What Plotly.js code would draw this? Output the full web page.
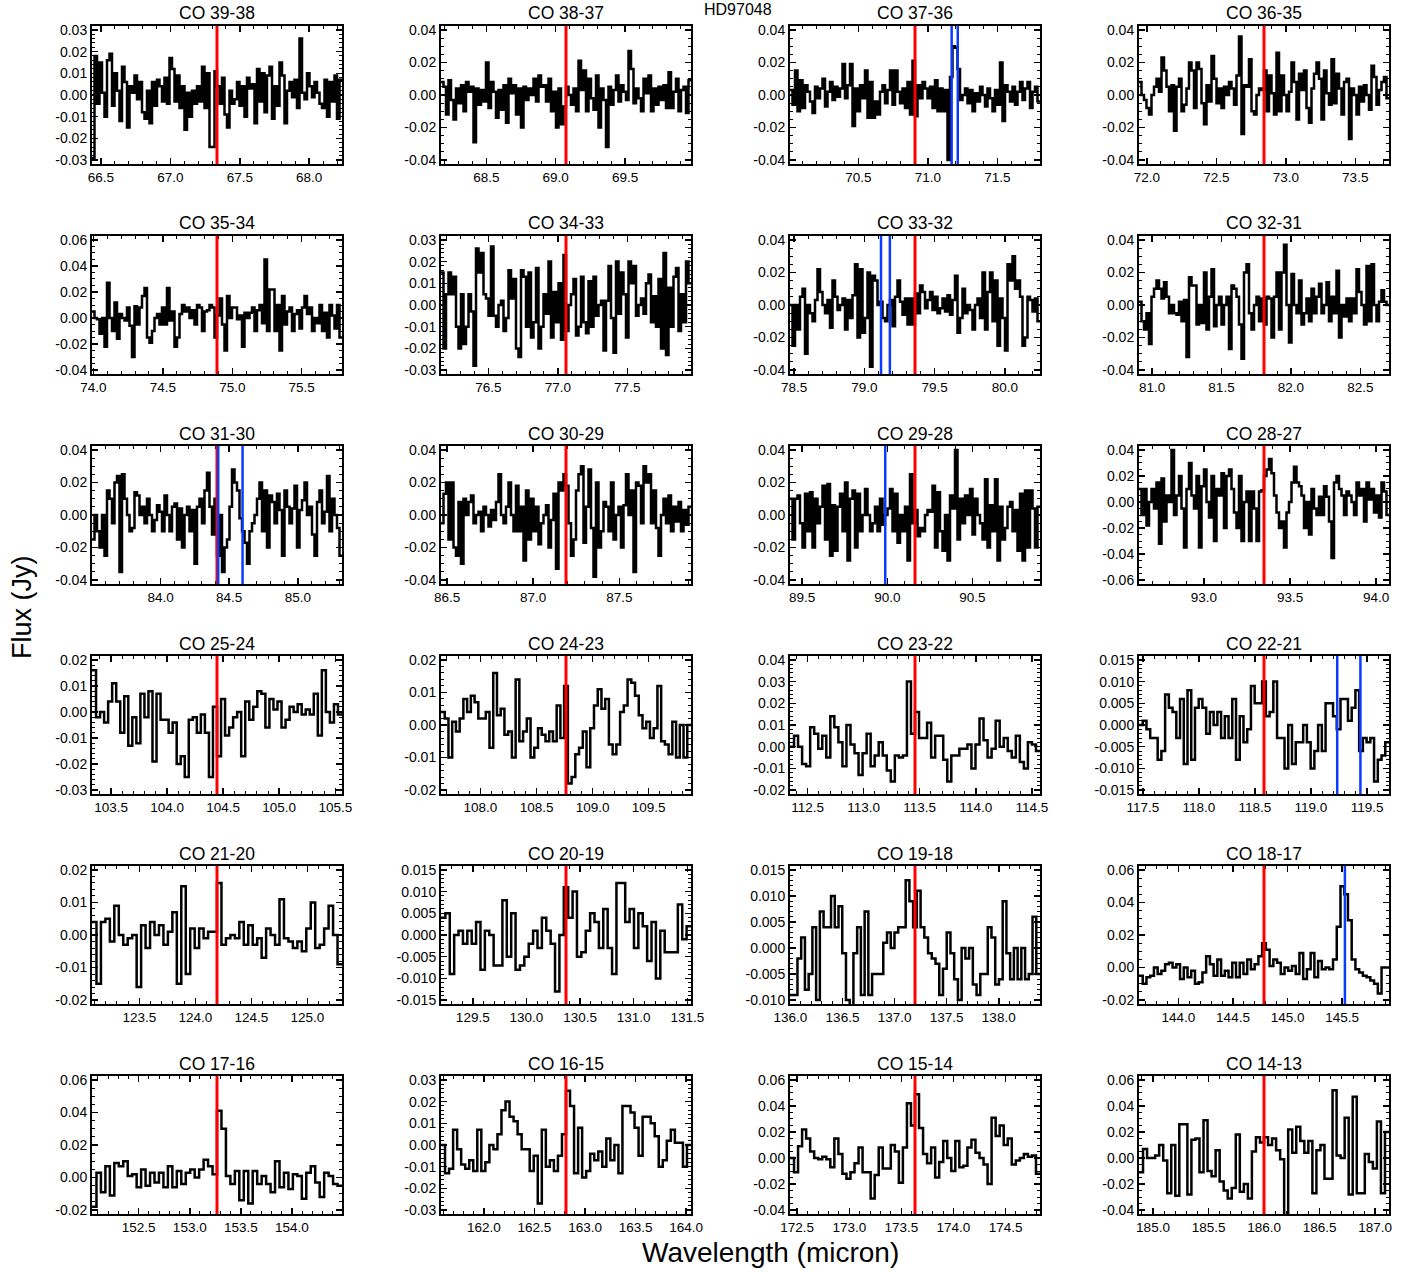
<!DOCTYPE html>
<html><head><meta charset="utf-8">
<script src="https://cdn.plot.ly/plotly-3.0.1.min.js"></script>
<style>body{margin:0;background:#fff}#chart{width:1419px;height:1272px}</style>
</head><body><div id="chart"></div>
<script>
// ---- data ----
const starName = 'HD97048';
const lineNames = ['CO 39-38','CO 38-37','CO 37-36','CO 36-35','CO 35-34','CO 34-33','CO 33-32','CO 32-31',
  'CO 31-30','CO 30-29','CO 29-28','CO 28-27','CO 25-24','CO 24-23','CO 23-22','CO 22-21',
  'CO 21-20','CO 20-19','CO 19-18','CO 18-17','CO 17-16','CO 16-15','CO 15-14','CO 14-13'];
const lineWl = [67.336,69.074,70.907,72.843,74.890,77.059,79.360,81.806,84.411,87.190,90.163,93.349,
  104.445,108.763,113.458,118.581,124.193,130.369,137.196,144.784,153.267,162.812,173.631,185.999];
// wavelength span of each spectrum (micron)
const spanWl = [1.8,1.8,1.8,1.8,1.8,1.8,1.78,1.8,1.82,1.45,1.47,1.45,
  2.23,2.23,2.23,2.23,2.23,2.33,2.40,2.29,2.45,2.47,2.40,2.25];
// other (OH / H2O / [OI]) lines marked in blue
const blueWl = [[],[],[71.171,71.215],[],[],[],[79.118,79.181],[],[84.420,84.597],[],[89.988],[],
  [],[],[],[119.234,119.441],[],[],[],[145.525],[],[],[],[]];
// y tick labels
const yTickLo = [-0.03,-0.04,-0.04,-0.04,-0.04,-0.03,-0.04,-0.04,-0.04,-0.04,-0.04,-0.06,
  -0.03,-0.02,-0.02,-0.015,-0.02,-0.015,-0.010,-0.02,-0.02,-0.03,-0.04,-0.04];
const yTickHi = [0.03,0.04,0.04,0.04,0.06,0.03,0.04,0.04,0.04,0.04,0.04,0.04,
  0.02,0.02,0.04,0.015,0.02,0.015,0.015,0.06,0.06,0.03,0.06,0.06];
const yTickStep = [0.01,0.02,0.02,0.02,0.02,0.01,0.02,0.02,0.02,0.02,0.02,0.02,
  0.01,0.01,0.01,0.005,0.01,0.005,0.005,0.02,0.02,0.01,0.02,0.02];
const yTickDec = [2,2,2,2,2,2,2,2,2,2,2,2,2,2,2,3,2,3,3,2,2,2,2,2];

// flux (Jy) per spectral bin
const flux01 = [-0.029,0.018,-0.004,0.015,0.001,-0.010,0.016,0.019,-0.005,0.010,0.002,-0.012,0.013,0.006,-0.015,0.004,0.001,0.009,-0.002,0.006,-0.008,-0.011,0.002,-0.013,0.006,-0.005,0.007,0.004,-0.003,0.008,-0.004,0.017,0.012,-0.003,0.009,-0.006,0.004,-0.016,0.001,-0.010,0.002,-0.004,0.004,-0.003,0.013,-0.006,0.010,-0.024,-0.024,0.011,0.004,-0.004,0.008,-0.009,-0.015,0.002,-0.004,-0.002,0.006,-0.005,0.004,-0.010,0.008,0.003,0.005,-0.013,0.012,-0.003,0.010,-0.008,0.009,0.013,-0.011,0.004,-0.005,0.015,0.009,-0.013,0.002,0.006,-0.001,0.007,-0.006,0.026,0.001,-0.002,0.010,0.004,-0.001,0.006,0.001,-0.004,-0.006,0.007,-0.010,0.006,-0.003,0.009,-0.011,0.007];
const flux02 = [0.008,0.005,-0.012,0.009,-0.003,-0.015,0.004,-0.005,0.006,-0.010,0.008,0.002,0.005,-0.029,0.004,-0.006,0.003,-0.004,0.020,-0.008,0.008,0.002,-0.014,0.003,-0.009,0.006,-0.017,0.010,0.001,0.006,-0.012,0.004,-0.020,0.005,-0.003,0.004,0.000,0.010,-0.004,0.012,0.005,0.006,-0.004,0.010,-0.010,0.002,-0.020,0.004,-0.018,-0.007,0.005,0.000,-0.006,0.004,-0.010,0.021,0.003,0.015,-0.010,0.010,-0.002,-0.009,0.012,-0.020,0.004,-0.003,-0.032,0.005,-0.006,0.003,0.012,-0.004,0.006,0.002,-0.003,0.027,0.016,-0.005,0.004,-0.002,-0.010,0.010,0.001,0.012,-0.010,0.004,-0.006,0.005,-0.003,0.006,-0.008,0.014,-0.008,0.002,0.010,-0.010,0.003,0.005,-0.011,0.009];
const flux03 = [0.003,-0.006,0.015,-0.010,0.009,-0.008,0.006,0.002,-0.004,-0.011,0.005,-0.002,0.004,0.010,-0.007,0.002,0.008,-0.003,0.005,-0.001,0.004,0.019,-0.002,0.006,0.019,-0.019,0.004,-0.010,0.006,-0.002,0.015,-0.014,0.008,-0.014,-0.004,-0.012,0.002,0.006,-0.005,0.003,0.015,-0.006,0.015,0.002,-0.005,0.004,-0.008,0.008,-0.012,0.021,-0.013,0.006,-0.002,0.008,0.004,-0.002,0.005,-0.008,0.009,-0.010,0.004,-0.010,0.003,-0.040,0.011,0.030,0.029,0.016,-0.003,0.000,0.004,-0.005,0.003,-0.010,0.001,-0.004,0.005,0.000,-0.007,0.004,-0.002,-0.010,0.003,-0.006,0.020,-0.016,0.006,0.002,-0.004,0.005,-0.006,0.002,0.008,-0.003,0.004,0.008,-0.008,0.002,0.005,-0.004];
const flux04 = [0.008,0.000,-0.003,-0.008,-0.012,0.000,0.005,0.010,0.002,0.023,0.015,0.005,-0.010,0.006,-0.022,0.005,0.010,-0.010,-0.006,0.004,0.020,0.015,-0.008,0.020,0.016,-0.005,-0.018,0.006,-0.004,0.024,0.010,-0.005,0.004,-0.008,0.005,0.000,0.008,0.004,-0.006,0.012,0.036,-0.024,0.006,0.005,0.022,-0.010,-0.012,0.000,0.004,0.003,0.015,-0.010,0.012,0.001,-0.012,0.026,-0.010,0.012,0.000,-0.010,0.002,0.020,0.008,-0.015,0.013,0.003,0.015,-0.008,-0.017,0.004,0.013,0.020,0.010,-0.015,0.015,0.001,-0.006,0.022,-0.005,0.013,0.004,-0.012,0.008,0.010,-0.027,0.004,0.000,-0.012,0.005,-0.004,0.006,0.000,-0.009,0.018,0.011,-0.006,0.003,0.008,0.011,-0.002];
const flux05 = [0.005,0.000,-0.001,-0.012,0.000,-0.022,0.027,0.000,-0.010,0.012,-0.016,0.003,0.000,-0.002,0.008,-0.006,-0.030,0.009,-0.005,0.008,0.017,0.023,-0.015,-0.019,-0.010,0.000,0.003,-0.005,0.008,-0.005,0.023,-0.002,0.005,-0.022,-0.015,0.003,0.010,0.005,0.008,0.000,0.006,-0.005,0.010,0.008,-0.010,0.005,0.006,0.010,0.008,-0.015,0.002,0.015,-0.005,-0.025,0.017,0.000,0.008,0.008,-0.001,0.002,-0.022,0.004,0.000,0.004,0.008,-0.010,0.006,0.010,-0.004,0.045,-0.010,0.022,0.022,-0.010,0.010,-0.025,0.017,-0.005,0.005,0.008,-0.010,0.003,0.006,-0.008,0.008,0.017,0.003,0.008,-0.010,0.000,-0.004,0.010,-0.010,0.004,-0.015,0.010,0.002,-0.008,0.010,-0.015];
const flux06 = [0.015,-0.020,0.005,0.015,0.005,0.013,-0.010,-0.020,0.005,-0.018,-0.010,0.005,-0.003,-0.028,0.026,0.015,0.024,0.005,0.003,-0.005,0.027,-0.005,-0.010,0.000,0.002,-0.012,-0.006,0.016,0.003,0.012,-0.020,-0.024,0.016,0.013,-0.010,0.015,-0.015,-0.008,0.017,-0.020,-0.010,0.005,-0.004,0.020,-0.015,0.006,-0.008,0.010,-0.016,0.023,-0.012,0.000,0.005,0.012,-0.014,-0.010,0.013,-0.008,-0.013,0.011,-0.010,0.013,-0.005,0.000,0.002,-0.021,0.002,0.018,-0.006,-0.022,0.020,-0.004,0.015,0.005,-0.015,0.020,0.010,0.018,-0.005,0.000,0.003,-0.004,0.010,0.014,-0.008,0.004,-0.010,0.012,-0.020,0.024,-0.023,0.008,-0.010,0.013,0.017,-0.012,0.005,-0.008,0.020,0.010];
const flux07 = [0.000,-0.025,0.000,-0.015,0.005,0.010,-0.030,0.000,-0.005,-0.010,0.003,0.022,0.008,0.000,-0.005,0.003,-0.014,0.015,0.005,-0.003,0.000,0.004,-0.015,0.003,-0.008,0.006,0.025,-0.020,0.022,-0.017,-0.008,0.020,-0.038,0.018,0.015,0.000,0.002,-0.008,-0.010,0.000,0.003,-0.013,0.005,0.015,0.002,-0.006,0.004,-0.012,0.004,-0.012,0.007,-0.005,0.012,0.008,-0.002,0.003,0.008,-0.003,0.005,-0.005,-0.002,0.004,-0.004,0.006,-0.006,0.003,0.018,-0.017,-0.008,0.010,-0.005,0.000,-0.003,-0.015,0.000,0.004,-0.008,0.020,-0.015,0.008,0.020,-0.010,0.015,-0.025,0.004,-0.008,-0.028,0.025,0.015,0.030,0.010,0.015,0.005,-0.025,-0.020,0.005,0.003,-0.004,0.004,-0.010];
const flux08 = [0.002,-0.010,-0.015,-0.005,-0.024,0.005,0.010,0.015,0.010,0.004,0.014,0.005,-0.005,0.000,-0.005,-0.006,0.002,-0.010,0.003,-0.032,0.017,0.012,0.012,-0.012,0.000,-0.011,0.020,-0.015,0.005,0.022,-0.013,0.000,0.005,-0.012,0.000,0.005,-0.027,0.012,0.010,0.005,-0.012,-0.033,0.020,0.025,-0.005,-0.015,0.000,0.005,-0.010,0.004,-0.012,0.005,0.004,-0.020,0.005,0.020,-0.015,0.020,0.037,0.000,-0.023,0.019,0.000,-0.005,0.015,-0.012,-0.005,0.004,-0.010,0.010,-0.005,0.005,0.013,-0.005,0.000,0.014,-0.010,0.005,-0.005,0.021,-0.020,0.000,-0.007,0.004,-0.010,0.004,-0.005,0.022,0.008,0.000,-0.012,0.024,-0.010,0.025,0.000,-0.010,0.002,0.009,0.002,0.000];
const flux09 = [-0.015,0.000,-0.010,-0.020,0.000,-0.025,0.015,0.010,-0.005,0.020,0.024,-0.035,0.025,0.010,0.000,-0.010,-0.008,0.014,0.012,0.000,0.005,-0.005,0.010,0.000,-0.010,-0.003,0.006,0.002,-0.010,0.012,0.000,-0.010,0.005,0.007,-0.015,0.004,-0.020,0.000,0.005,-0.010,0.003,-0.030,0.005,0.010,-0.005,0.015,0.026,0.005,-0.012,0.010,-0.025,0.000,-0.035,-0.020,-0.015,0.005,0.028,0.020,0.015,-0.002,-0.010,-0.017,-0.030,-0.010,-0.005,0.000,0.010,0.020,-0.010,0.015,-0.020,0.012,0.008,-0.005,0.013,0.003,-0.025,0.015,0.005,-0.005,0.004,0.018,-0.020,0.003,0.009,0.020,0.000,0.005,-0.012,-0.025,0.008,0.015,-0.005,0.002,0.024,-0.010,0.010,0.000,-0.008,-0.025];
const flux10 = [-0.005,0.013,0.020,-0.015,0.020,-0.020,-0.025,0.008,-0.030,0.010,0.000,0.008,0.012,-0.005,0.000,0.002,-0.010,0.005,0.000,-0.007,0.003,-0.003,0.008,0.025,0.000,-0.005,0.005,0.020,0.000,-0.010,0.018,-0.010,0.005,-0.028,0.015,-0.015,0.010,-0.010,0.005,-0.018,-0.005,0.000,0.006,-0.020,-0.003,0.013,-0.033,0.020,0.015,0.025,0.018,-0.005,-0.025,-0.015,0.015,0.025,0.030,-0.017,0.005,0.028,-0.008,-0.038,0.020,-0.020,-0.010,0.008,0.005,-0.010,0.020,-0.015,0.000,0.005,-0.020,0.006,0.025,0.000,0.015,-0.035,0.020,0.018,-0.005,0.030,0.020,0.025,-0.005,0.015,-0.008,-0.025,0.000,0.010,-0.005,0.012,-0.010,0.005,-0.004,0.008,-0.010,0.003,-0.006,0.005];
const flux11 = [0.010,-0.015,0.010,0.012,-0.005,-0.020,0.013,-0.010,0.014,-0.020,0.010,-0.005,0.005,0.018,-0.015,0.019,-0.025,0.006,-0.022,0.005,0.013,-0.010,0.020,-0.028,0.010,0.015,-0.020,0.013,-0.010,0.000,0.016,0.000,-0.010,-0.005,0.005,-0.010,0.010,-0.006,0.000,0.004,0.016,-0.010,0.013,-0.017,0.000,-0.010,0.005,-0.028,0.025,-0.005,0.003,-0.013,-0.008,-0.010,0.000,0.003,0.002,0.018,-0.020,0.014,-0.010,-0.022,0.000,-0.028,0.012,0.004,0.040,-0.015,0.010,-0.005,0.012,0.000,0.016,-0.012,0.010,0.000,-0.005,-0.015,0.022,-0.020,0.006,-0.010,0.022,-0.028,0.005,-0.015,-0.008,0.005,0.008,-0.010,0.003,-0.022,0.013,-0.028,0.015,-0.020,0.015,0.004,-0.020,0.005];
const flux12 = [0.010,-0.010,0.010,-0.018,0.000,0.010,-0.005,0.015,-0.032,0.018,-0.015,0.005,0.000,0.040,-0.010,0.005,0.020,-0.005,-0.035,0.010,0.030,0.005,-0.005,0.020,-0.035,0.012,0.025,0.000,-0.012,0.020,-0.030,0.010,0.005,0.022,-0.020,0.020,0.025,0.010,-0.008,-0.020,0.020,-0.030,0.000,0.008,-0.030,0.008,-0.005,-0.030,0.008,0.009,0.020,0.025,0.033,0.022,0.005,-0.008,-0.020,-0.015,-0.035,-0.008,0.000,0.015,0.027,0.015,0.012,0.005,-0.020,0.000,-0.025,0.010,-0.005,-0.010,0.004,-0.010,0.012,0.004,-0.015,-0.043,0.015,0.020,0.010,0.005,-0.010,0.008,0.005,0.000,-0.010,0.015,0.005,0.010,-0.015,0.015,0.002,0.010,-0.008,0.005,-0.012,0.015,0.008,-0.010];
const flux13 = [0.016,-0.002,0.000,-0.004,0.004,0.011,0.004,-0.008,0.006,-0.013,-0.002,-0.012,0.007,-0.002,0.008,-0.019,0.007,-0.003,-0.003,-0.008,-0.004,-0.020,-0.017,-0.025,-0.003,-0.002,-0.008,-0.001,-0.008,-0.025,0.002,-0.017,0.005,-0.009,-0.006,-0.002,0.000,-0.017,0.004,-0.003,0.002,0.008,0.007,-0.006,0.005,0.001,0.004,-0.006,-0.003,0.002,0.000,0.003,-0.001,0.001,-0.001,0.007,-0.009,0.016,0.000,-0.004,0.003,-0.001];
const flux14 = [0.004,0.002,-0.010,0.001,-0.002,0.002,0.008,0.004,0.009,0.007,0.002,0.002,0.004,-0.007,0.016,0.003,0.005,-0.003,-0.002,-0.010,0.014,-0.005,-0.002,0.002,-0.010,-0.007,-0.001,-0.003,-0.005,-0.002,-0.005,0.006,-0.004,0.012,-0.018,-0.016,-0.009,-0.007,-0.002,-0.013,-0.001,0.006,0.011,0.005,0.008,-0.006,-0.009,-0.006,0.004,0.006,0.014,0.013,0.009,0.003,-0.001,0.001,-0.004,-0.001,0.012,-0.005,-0.006,-0.009,0.001,-0.010,0.000,-0.010,0.000];
const flux15 = [0.000,0.005,0.000,-0.008,-0.009,0.009,0.006,-0.001,0.005,-0.005,0.014,0.009,0.002,-0.009,0.010,0.001,-0.003,-0.013,-0.003,0.006,-0.009,-0.004,0.002,-0.004,-0.011,-0.016,-0.004,-0.005,-0.004,0.030,0.006,0.016,0.004,0.004,0.011,-0.005,0.005,0.005,-0.006,-0.016,-0.004,-0.004,-0.001,-0.001,0.001,-0.010,0.001,0.013,0.003,-0.005,-0.001,0.012,0.000,0.004,-0.002,-0.005,0.005,-0.007,-0.010,0.002,0.001,-0.002];
const flux16 = [0.000,0.001,-0.001,-0.003,-0.003,-0.008,-0.006,0.007,0.004,0.003,-0.003,0.006,-0.009,0.008,-0.008,0.004,0.006,0.004,-0.002,0.003,0.000,0.003,-0.003,0.002,-0.003,0.006,-0.008,0.002,-0.004,-0.001,0.009,0.005,0.005,0.010,0.002,0.003,0.010,-0.003,-0.003,-0.010,0.000,-0.009,-0.004,-0.004,0.000,-0.004,-0.010,-0.006,0.000,-0.006,0.005,0.005,0.002,-0.001,0.006,0.006,0.001,0.004,0.008,-0.006,-0.003,-0.004,-0.003,-0.013,-0.008,-0.007,-0.004];
const flux17 = [0.004,-0.015,0.004,0.005,-0.002,0.009,0.000,-0.003,-0.001,0.000,-0.016,0.003,-0.004,0.004,0.000,0.003,-0.003,0.001,0.007,-0.015,0.015,-0.012,0.002,-0.004,0.002,-0.001,0.001,0.001,0.016,-0.003,-0.001,0.000,-0.001,0.004,-0.003,0.003,-0.003,-0.001,-0.007,0.002,0.000,-0.003,0.011,-0.001,-0.002,-0.004,-0.002,-0.005,0.002,0.010,-0.004,-0.003,0.002,0.009,0.000,-0.009];
const flux18 = [0.004,0.005,-0.009,0.000,0.001,-0.002,0.001,-0.002,0.003,-0.008,0.001,0.000,-0.007,-0.007,0.008,-0.005,0.005,-0.008,-0.007,-0.005,-0.002,0.001,-0.003,0.004,0.001,-0.002,-0.013,0.000,0.011,0.004,0.010,-0.005,-0.004,0.001,0.005,0.003,-0.003,0.006,-0.003,-0.009,0.012,0.012,0.003,0.006,-0.003,0.005,0.002,-0.006,0.003,-0.010,0.001,-0.004,-0.004,-0.004,0.007,-0.001,0.002];
const flux19 = [-0.009,-0.009,-0.002,0.002,-0.008,-0.005,0.004,-0.010,0.007,0.004,0.004,0.010,0.004,0.008,-0.001,-0.010,-0.011,-0.001,0.004,-0.009,0.007,-0.009,-0.005,-0.005,-0.005,0.001,0.003,0.000,0.003,0.004,0.004,0.013,0.009,0.004,0.011,0.004,0.002,-0.001,-0.002,-0.003,-0.009,-0.004,0.003,-0.001,-0.006,-0.010,0.000,-0.002,0.000,-0.007,-0.009,-0.005,-0.005,0.004,0.002,-0.007,-0.006,0.009,-0.001,-0.006,0.000,-0.006,0.000,-0.006,-0.005,0.006,-0.005];
const flux20 = [-0.005,-0.010,-0.006,-0.005,0.000,-0.004,-0.002,0.002,0.003,0.000,0.002,-0.007,0.000,-0.006,-0.002,-0.010,-0.009,-0.003,0.007,0.002,-0.005,0.005,-0.005,-0.002,-0.006,0.003,-0.006,0.003,-0.004,0.005,-0.001,0.002,0.007,0.015,0.011,0.001,0.005,0.003,-0.004,0.000,-0.002,0.001,-0.004,0.009,-0.007,-0.001,0.009,-0.006,0.004,-0.001,0.000,-0.001,0.005,0.025,0.050,0.045,0.029,0.005,-0.001,-0.003,-0.005,-0.006,-0.008,-0.010,-0.016,0.000,0.000];
const flux21 = [-0.018,0.003,-0.009,0.007,-0.011,0.009,0.007,0.010,0.001,0.002,-0.006,0.005,-0.005,0.003,-0.003,0.003,-0.006,0.007,-0.006,0.004,-0.004,0.003,0.005,0.000,0.005,0.011,0.007,0.002,0.041,0.030,0.001,-0.004,0.004,-0.014,0.004,-0.016,0.004,-0.004,0.001,-0.004,-0.009,0.010,-0.006,0.003,-0.007,0.002,0.001,-0.013,0.003,0.007,-0.003,-0.012,0.003,0.001,-0.004,-0.005];
const flux22 = [0.000,-0.013,-0.011,0.007,-0.002,-0.009,-0.011,-0.007,-0.012,0.007,-0.012,-0.008,0.000,-0.002,0.005,0.016,0.020,0.013,0.011,0.005,-0.002,-0.002,-0.012,-0.005,-0.027,0.007,-0.010,-0.007,-0.012,-0.005,0.005,0.025,0.018,-0.013,0.008,-0.015,-0.012,-0.004,-0.007,-0.003,-0.010,0.003,-0.007,0.000,-0.013,0.018,0.018,0.015,0.008,-0.005,0.013,0.013,0.010,0.004,-0.010,-0.007,0.002,0.007,0.001,0.001,-0.010,0.000];
const flux23 = [0.000,-0.011,0.009,0.022,0.015,0.005,0.000,-0.001,0.001,-0.001,-0.007,0.015,0.003,-0.012,-0.016,-0.011,-0.004,0.008,-0.011,-0.011,-0.031,-0.013,0.008,-0.008,-0.008,0.010,0.005,-0.019,0.008,0.042,0.025,0.049,0.023,0.003,-0.004,0.008,-0.015,-0.003,0.013,0.000,-0.010,0.013,-0.007,-0.006,0.008,0.014,0.004,0.000,-0.005,-0.020,0.031,0.017,0.025,0.010,0.015,-0.005,-0.002,0.000,0.003,0.001,0.002,-0.012];
const flux24 = [-0.011,0.007,0.000,0.000,0.002,0.010,-0.002,-0.027,0.010,-0.029,0.026,0.026,-0.028,0.014,0.015,-0.011,0.029,-0.010,-0.014,0.006,-0.018,-0.025,-0.031,-0.023,0.018,-0.026,-0.020,-0.031,0.005,0.016,0.012,0.016,0.010,0.015,0.006,-0.001,-0.045,0.022,0.004,0.024,0.013,0.004,0.013,-0.027,0.006,0.010,-0.016,-0.016,0.052,0.002,0.000,0.031,-0.028,0.047,-0.027,-0.027,0.003,-0.003,-0.008,0.028,-0.027,0.020];
const fluxes = [flux01,flux02,flux03,flux04,flux05,flux06,flux07,flux08,flux09,flux10,flux11,flux12,
  flux13,flux14,flux15,flux16,flux17,flux18,flux19,flux20,flux21,flux22,flux23,flux24];

// ---- layout geometry ----
const W = 1419, H = 1272;
const colLeft = [92, 441, 790, 1139], rowTop = [26, 236, 446, 656, 866, 1076];
const pw = 250, ph = 138;
const FONT = 'Liberation Sans, Arial, Helvetica, sans-serif';

const traces = [], shapes = [], annotations = [];
const layout = {
  width: W, height: H, margin: {l: 0, r: 0, t: 0, b: 0},
  paper_bgcolor: '#fff', plot_bgcolor: '#fff', showlegend: false,
  font: {family: FONT, color: '#000', size: 14}
};

for (let p = 0; p < 24; p++) {
  const r = Math.floor(p / 4), c = p % 4;
  const k = p === 0 ? '' : String(p + 1);
  const L = colLeft[c], T = rowTop[r];
  const xmin = lineWl[p] - spanWl[p] / 2, xmax = lineWl[p] + spanWl[p] / 2;
  const fl = fluxes[p], n = fl.length, dx = spanWl[p] / n;
  const xs = fl.map((_, i) => xmin + i * dx); xs.push(xmax);
  const ys = fl.slice(); ys.push(fl[n - 1]);
  traces.push({x: xs, y: ys, xaxis: 'x' + k, yaxis: 'y' + k, type: 'scatter', mode: 'lines',
    line: {shape: 'hv', color: '#000', width: 2.5}, hoverinfo: 'skip'});

  // y ticks
  const tv = [], tt = [];
  const nt = Math.round((yTickHi[p] - yTickLo[p]) / yTickStep[p]);
  for (let i = 0; i <= nt; i++) {
    let v = Math.round((yTickLo[p] + i * yTickStep[p]) * 1e6) / 1e6;
    if (Math.abs(v) < 1e-9) v = 0;
    tv.push(v); tt.push(v.toFixed(yTickDec[p]));
  }
  const pad = 0.03 * (yTickHi[p] - yTickLo[p]);
  const common = {showline: true, linewidth: 2, linecolor: '#000', mirror: 'ticks', ticks: 'inside',
    ticklen: 6, tickwidth: 1.5, tickcolor: '#000', showgrid: false, zeroline: false,
    tickfont: {family: FONT, size: 14, color: '#000'}, fixedrange: true};
  layout['xaxis' + k] = Object.assign({}, common, {
    domain: [L / W, (L + pw) / W], anchor: 'y' + k, range: [xmin, xmax],
    tickmode: 'linear', tick0: 0, dtick: 0.5, tickformat: '.1f',
    tickfont: {family: FONT, size: 13.5, color: '#000'},
    minor: {dtick: 0.1, tick0: 0, ticks: 'inside', ticklen: 3, tickwidth: 1, tickcolor: '#000'}
  });
  layout['yaxis' + k] = Object.assign({}, common, {
    domain: [1 - (T + ph) / H, 1 - T / H], anchor: 'x' + k,
    range: [yTickLo[p] - pad, yTickHi[p] + pad],
    tickmode: 'array', tickvals: tv, ticktext: tt,
    minor: {dtick: yTickStep[p] / (yTickStep[p] === 0.02 ? 4 : 5), tick0: 0, ticks: 'inside', ticklen: 3, tickwidth: 1, tickcolor: '#000'}
  });

  shapes.push({type: 'line', xref: 'x' + k, yref: 'y' + k + ' domain', x0: lineWl[p], x1: lineWl[p], y0: 0, y1: 1,
    line: {color: '#ff0000', width: 3}});
  blueWl[p].forEach(b => shapes.push({type: 'line', xref: 'x' + k, yref: 'y' + k + ' domain', x0: b, x1: b, y0: 0, y1: 1,
    line: {color: '#0a3cff', width: 2.5}}));

  annotations.push({text: lineNames[p], xref: 'paper', yref: 'paper', x: (L + pw / 2) / W, y: 1 - (T - 12.5) / H,
    xanchor: 'center', yanchor: 'middle', showarrow: false, font: {family: FONT, size: 17.5, color: '#000'}});
}

annotations.push({text: 'Flux (Jy)', xref: 'paper', yref: 'paper', x: 22 / W, y: 1 - 607 / H, textangle: -90,
  xanchor: 'center', yanchor: 'middle', showarrow: false, font: {family: FONT, size: 27, color: '#000'}});
annotations.push({text: 'Wavelength (micron)', xref: 'paper', yref: 'paper', x: 770 / W, y: 1 - 1252 / H,
  xanchor: 'center', yanchor: 'middle', showarrow: false, font: {family: FONT, size: 28, color: '#000'}});
annotations.push({text: starName, xref: 'paper', yref: 'paper', x: 738 / W, y: 1, borderpad: 0,
  xanchor: 'center', yanchor: 'top', showarrow: false, font: {family: FONT, size: 16, color: '#000'}});

layout.shapes = shapes;
layout.annotations = annotations;
Plotly.newPlot('chart', traces, layout, {displayModeBar: false, staticPlot: true});
</script>
</body></html>
